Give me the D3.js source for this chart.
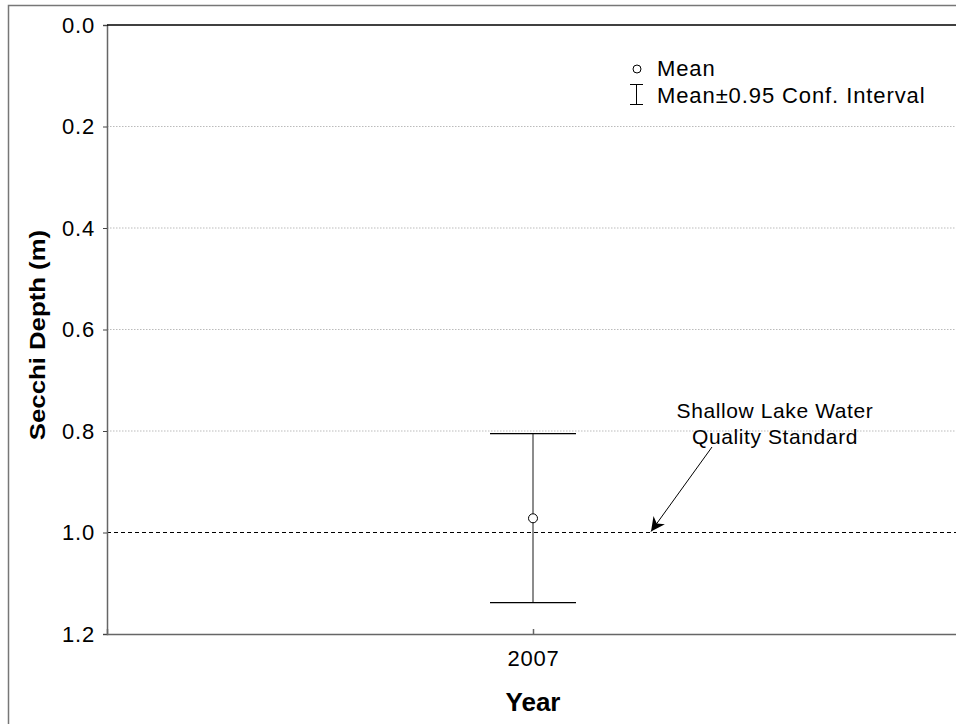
<!DOCTYPE html>
<html><head><meta charset="utf-8">
<script src="https://cdn.jsdelivr.net/npm/d3@7"></script>
<style>body{margin:0;background:#fff}svg{display:block;font-family:"Liberation Sans",Arial,sans-serif}</style>
</head><body>
<svg id="c" width="956" height="724"></svg>
<script>
const years = ["2007"];
const means = [0.972];
const lower = [1.138];
const upper = [0.805];
const yTicks = [0.0, 0.2, 0.4, 0.6, 0.8, 1.0, 1.2];
const standard = 1.0;

const FF = "Liberation Sans, Arial, sans-serif";
const svg = d3.select("#c");
const L = 107, T = 25, R = 959, B = 634;
const y = d3.scaleLinear().domain([0, 1.2]).range([T, B]);
const x = d3.scalePoint().domain(years).range([L, R]).padding(0.5);

// outer frame
svg.append("path").attr("d", `M8.5,724 V5.5 H956`).attr("fill", "none").attr("stroke", "#777").attr("stroke-width", 1.5);

// gridlines
svg.append("g").selectAll("line").data(yTicks.filter(d => d > 0 && d < 1.0)).join("line")
  .attr("x1", L).attr("x2", R).attr("y1", d => y(d)).attr("y2", d => y(d))
  .attr("stroke", "#bbb").attr("stroke-width", 1).attr("stroke-dasharray", "1.5,1.5");

// standard line
svg.append("line").attr("x1", L).attr("x2", R).attr("y1", y(standard)).attr("y2", y(standard))
  .attr("stroke", "#000").attr("stroke-width", 1).attr("stroke-dasharray", "4,3");

// y axis
const ya = svg.append("g").attr("transform", `translate(${L},0)`)
  .call(d3.axisLeft(y).tickValues(yTicks).tickFormat(d3.format(".1f")).tickSizeOuter(0).tickSize(4));
ya.attr("font-size", null).attr("font-family", null);
ya.select(".domain").attr("stroke", "#666").attr("stroke-width", 1.5);
ya.selectAll(".tick line").attr("stroke", "#444");
ya.selectAll("text").style("font-size", "22px").style("letter-spacing", "0.8px").attr("fill", "#000").attr("x", -12)
  .style("font-family", FF);

// x axis
const xa = svg.append("g").attr("transform", `translate(0,${B})`)
  .call(d3.axisBottom(x).tickSizeOuter(0).tickSize(-5));
xa.attr("font-size", null).attr("font-family", null);
xa.select(".domain").attr("stroke", "#666").attr("stroke-width", 1.5);
xa.selectAll(".tick line").attr("stroke", "#666").attr("stroke-width", 1.5);
xa.selectAll("text").style("font-size", "22px").style("letter-spacing", "0.8px").attr("fill", "#000")
  .attr("y", 32).attr("dy", null).style("font-family", FF);

// top border
svg.append("line").attr("x1", L).attr("x2", R).attr("y1", T).attr("y2", T).attr("stroke", "#000").attr("stroke-width", 1.5);

// error bars
const eb = svg.append("g");
years.forEach((yr, i) => {
  const cx = x(yr);
  eb.append("line").attr("x1", cx).attr("x2", cx).attr("y1", y(upper[i])).attr("y2", y(lower[i]))
    .attr("stroke", "#666").attr("stroke-width", 1.5);
  [upper[i], lower[i]].forEach(v => {
    eb.append("line").attr("x1", cx - 43).attr("x2", cx + 43).attr("y1", y(v)).attr("y2", y(v))
      .attr("stroke", "#000").attr("stroke-width", 1.2);
  });
  eb.append("circle").attr("cx", cx).attr("cy", y(means[i])).attr("r", 4.5)
    .attr("fill", "#fff").attr("stroke", "#000").attr("stroke-width", 1);
});

// annotation
const ann = svg.append("g").style("font-size", "21px").style("letter-spacing", "0.6px").attr("text-anchor", "middle").attr("fill", "#000");
ann.append("text").attr("x", 775).attr("y", 418).text("Shallow Lake Water");
ann.append("text").attr("x", 775).attr("y", 444).text("Quality Standard");
svg.append("defs").append("marker").attr("id", "ah").attr("viewBox", "0 0 10 10")
  .attr("refX", 10).attr("refY", 5).attr("markerWidth", 14).attr("markerHeight", 14)
  .attr("markerUnits", "userSpaceOnUse").attr("orient", "auto")
  .append("path").attr("d", "M0,0 L10,5 L0,10 L3,5 Z").attr("fill", "#000");
svg.append("line").attr("x1", 712).attr("y1", 447).attr("x2", 651).attr("y2", y(standard) - 1)
  .attr("stroke", "#000").attr("stroke-width", 1).attr("marker-end", "url(#ah)");

// legend
const lg = svg.append("g").style("font-size", "22px").style("letter-spacing", "0.9px").attr("fill", "#000");
lg.append("circle").attr("cx", 637).attr("cy", 69).attr("r", 4).attr("fill", "#fff").attr("stroke", "#000");
lg.append("text").attr("x", 657).attr("y", 76).text("Mean");
lg.append("path").attr("d", "M630,84.5 H643 M636.5,84.5 V104.5 M630,104.5 H643").attr("stroke", "#000").attr("fill", "none");
lg.append("text").attr("x", 657).attr("y", 103).text("Mean±0.95 Conf. Interval");

// axis titles
svg.append("text").attr("x", x("2007")).attr("y", 711).attr("text-anchor", "middle")
  .style("font-size", "26px").attr("font-weight", "bold").text("Year");
svg.append("text").attr("transform", "translate(45,335) rotate(-90) scale(1.12,1)").attr("text-anchor", "middle")
  .style("font-size", "23px").attr("font-weight", "bold").text("Secchi Depth (m)");
</script>
</body></html>
